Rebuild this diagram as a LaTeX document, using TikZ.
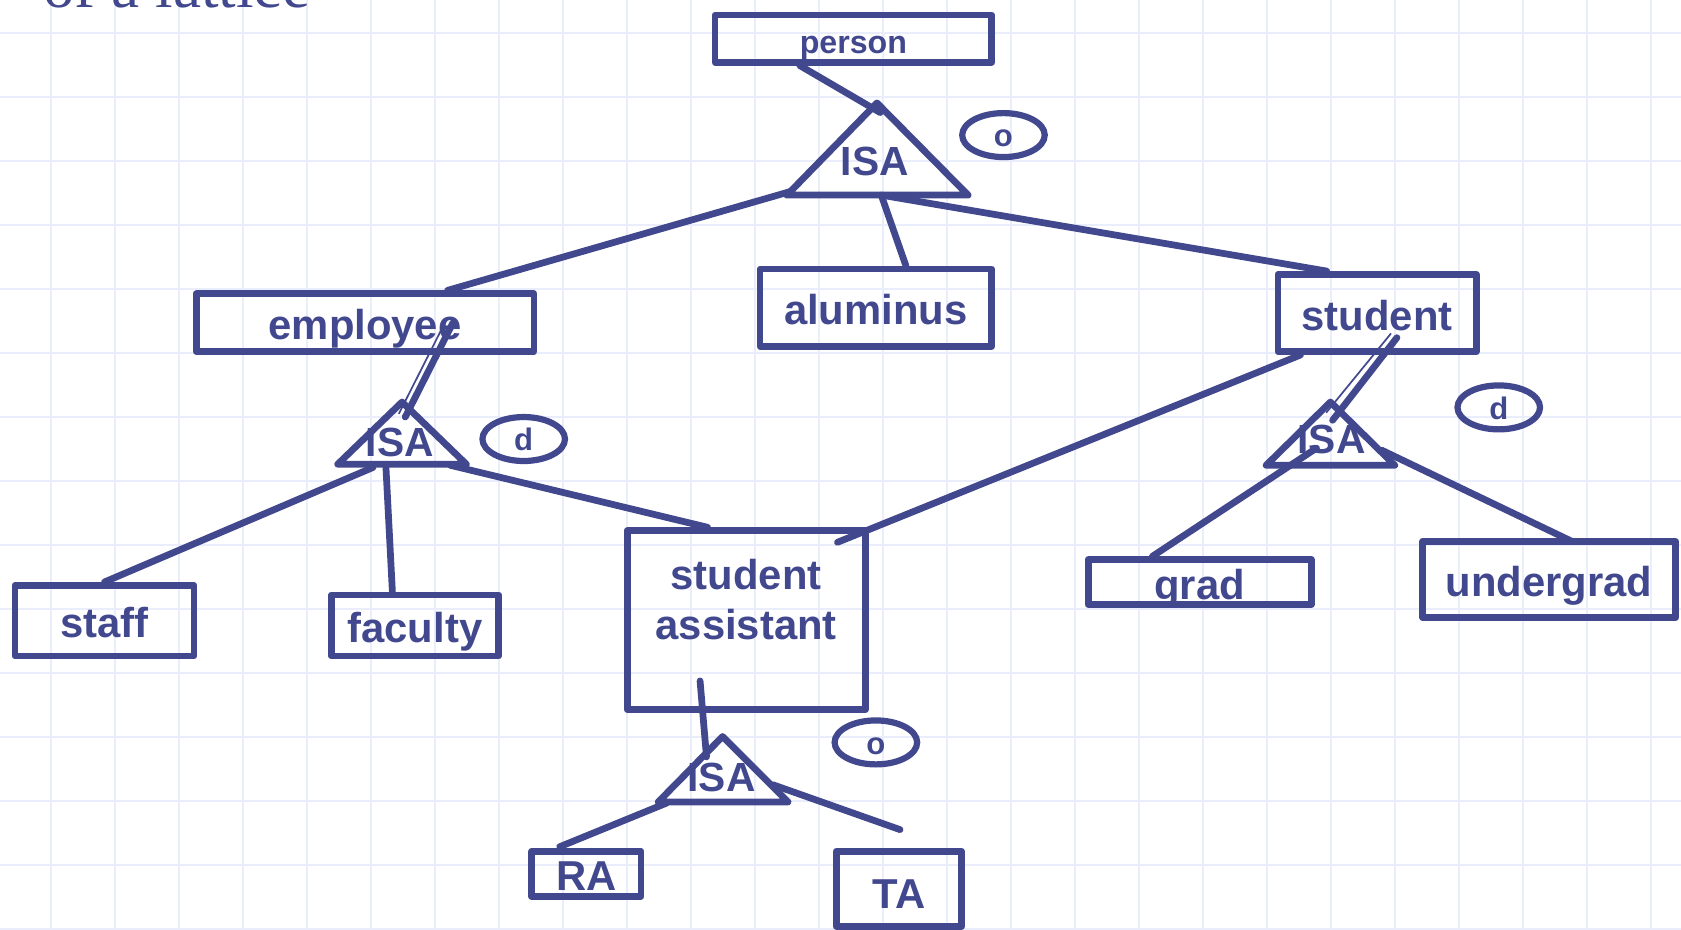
\documentclass[tikz,border=0pt]{standalone}
\usepackage{fontspec}
\setsansfont{Liberation Sans}
\newfontfamily\titlefont{Liberation Serif}
\usepackage{tikz}
\usetikzlibrary{positioning, shapes.geometric, calc}
\definecolor{erBlue}{RGB}{66, 72, 142}
\definecolor{erGrid}{RGB}{234, 237, 251}
\tikzset{
    base/.style={
        font=\sffamily\bfseries\fontsize{39}{47}\selectfont,
        text=erBlue,
        align=center
    },
    entity/.style={
        base,
        rectangle,
        draw=erBlue,
        line width=6.3pt,
        line join=round,
        inner sep=0pt,
        text height=32pt,
        text depth=0pt
    },
    constraint/.style={
        base,
        ellipse,
        draw=erBlue,
        line width=5.8pt,
        inner sep=0pt,
        minimum width=77pt,
        minimum height=41pt,
        text height=22pt,
        text depth=0pt,
        font=\sffamily\bfseries\fontsize{29}{32}\selectfont
    },
    isa/.style={
        draw=erBlue,
        line width=6.3pt,
        line join=round
    },
    isalabel/.style={
        base,
        font=\sffamily\bfseries\fontsize{38}{44}\selectfont,
        inner sep=0pt
    },
    link/.style={
        draw=erBlue,
        line width=6.3pt,
        line cap=round
    },
    total/.style={
        draw=erBlue,
        line width=1.6pt
    },
    gridline/.style={
        draw=erGrid,
        line width=1.6pt
    }
}

\begin{document}
\begin{tikzpicture}[x=1pt, y=-1pt]
  \useasboundingbox (0,0) rectangle (1568,867);
  \clip (0,0) rectangle (1568,867);

  % Grid
  \foreach \gx in {0,...,25}
    \draw[gridline] ({47.6+59.7*\gx},0) -- ({47.6+59.7*\gx},867);
  \foreach \gy in {0,...,14}
    \draw[gridline] (0,{30.8+59.7*\gy}) -- (1568,{30.8+59.7*\gy});

  % Title (cut off at the top)
  \node[anchor=base west, inner sep=0pt, text=erBlue, font=\titlefont\fontsize{59}{62}\selectfont] (title) at (40,7) {of a lattice};

  % Entities
  \node[entity, minimum width=258pt, minimum height=44pt, text height=27pt, font=\sffamily\bfseries\fontsize{30}{34}\selectfont] (person) at (796,36) {person};
  \node[entity, minimum width=315pt, minimum height=54pt] (employee) at (340.5,301) {employee};
  \node[entity, minimum width=216pt, minimum height=72pt] (aluminus) at (817,287) {aluminus};
  \node[entity, minimum width=185pt, minimum height=72pt] (student) at (1284.5,292) {student};
  \node[entity, minimum width=167pt, minimum height=66pt] (staff) at (97.5,579) {staff};
  \node[entity, minimum width=156pt, minimum height=57pt] (faculty) at (387,583.5) {faculty};
  \node[entity, minimum width=222pt, minimum height=167pt] (sa) at (696,578.5) {};
  \node[base, inner sep=0pt] (saText) at (696,559) {student\\assistant};
  \node[entity, minimum width=208pt, minimum height=42pt] (grad) at (1119,543) {grad};
  \node[entity, minimum width=236pt, minimum height=71pt] (undergrad) at (1445,540.5) {undergrad};
  \node[entity, minimum width=102pt, minimum height=42pt] (ra) at (547,815) {RA};
  \node[entity, minimum width=117pt, minimum height=70pt, text height=36pt] (ta) at (838.5,829) {TA};

  % ISA triangles
  \coordinate (topApex) at (818,96);
  \coordinate (topL) at (734,182);
  \coordinate (topR) at (903,182);
  \coordinate (topFoot) at (822,182);
  \draw[isa] (topL) -- (topApex) -- (topR) -- cycle;
  \node[isalabel] (isaTop) at (816,151) {ISA};

  \coordinate (empApex) at (375,375);
  \coordinate (empL) at (315,433);
  \coordinate (empR) at (435,433);
  \draw[isa] (empL) -- (empApex) -- (empR) -- cycle;
  \node[isalabel] (isaEmp) at (373,413) {ISA};

  \coordinate (stuApex) at (1241,375);
  \coordinate (stuL) at (1181,434);
  \coordinate (stuR) at (1301,434);
  \draw[isa] (stuL) -- (stuApex) -- (stuR) -- cycle;
  \node[isalabel] (isaStu) at (1242,410) {ISA};

  \coordinate (saApex) at (674,687);
  \coordinate (saL) at (614,748);
  \coordinate (saR) at (735,748);
  \draw[isa] (saL) -- (saApex) -- (saR) -- cycle;
  \node[isalabel] (isaSa) at (673,725) {ISA};

  % Constraints
  \node[constraint] (oTop) at (936,126) {o};
  \node[constraint] (dEmp) at (488.5,409.5) {d};
  \node[constraint] (dStu) at (1398,380) {d};
  \node[constraint] (oSa) at (817,692.5) {o};

  % Connections
  \draw[link] ([xshift=-50pt]person.south) -- ($(topApex)+(3,9)$);
  \draw[link] ($(topL)+(2,-3)$) -- ([xshift=77pt]employee.north);
  \draw[link] (topFoot) -- ([xshift=28pt]aluminus.north);
  \draw[link] (topFoot) -- ([xshift=-47pt]student.north);

  \draw[link] ($(employee.center)+(82,0)$) -- ($(empApex)+(3,14)$);
  \draw[total] ($(employee.center)+(76,-3)$) -- ($(empApex)+(-3,11)$);
  \draw[link] ($(empL)+(33,3)$) -- (staff.north);
  \draw[link] ($(empL)+(45,3)$) -- ([xshift=-21pt]faculty.north);
  \draw[link] ($(empR)+(-15,1)$) -- ([xshift=-36pt]sa.north);

  \draw[link] ([xshift=-71.5pt]student.south) -- ($(sa.north east)+(-29,14)$);
  \draw[link] ($(student.center)+(18.5,23)$) -- ($(stuApex)+(2,17)$);
  \draw[total] ($(student.center)+(13,19)$) -- ($(stuApex)+(-4,10)$);
  \draw[link] ($(stuL)+(47,-16)$) -- ([xshift=-44pt]grad.north);
  \draw[link] ($(stuR)+(-12,-14)$) -- ($(undergrad.north)+(21,3)$);

  \draw[link] ($(sa.south)+(-43,-30)$) -- ($(saApex)+(-15,19)$);
  \draw[link] ($(saL)+(8,1)$) -- ($(ra.north)+(-25,-1)$);
  \draw[link] ($(saR)+(-14,-16)$) -- ($(ta.north)+(1,-17)$);

\end{tikzpicture}
\end{document}
